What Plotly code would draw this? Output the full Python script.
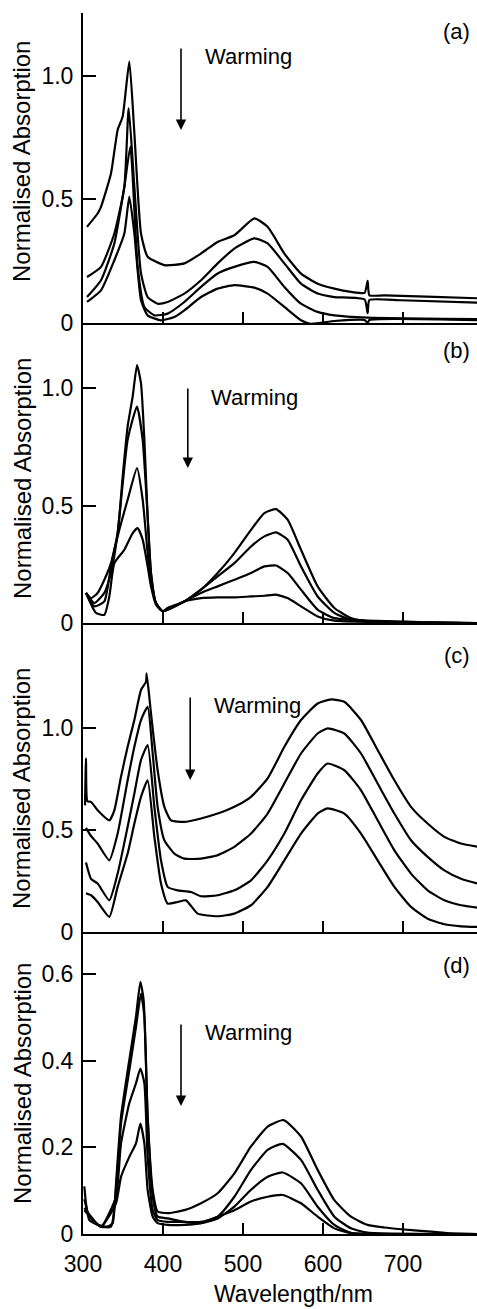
import plotly.graph_objects as go

# ---------------- Panel (a) ----------------
a1_nm = [305, 318.3, 322.5, 335, 343.3, 349.6, 357.9, 364.2, 372.5, 380.8, 401.7, 426.7, 447.5, 468.3, 489.2, 514.2, 530.8, 551.7, 572.5, 593.3, 614.2, 635, 652, 655.8, 658, 676.7, 739.2, 793.75]
a1_abs = [0.389, 0.443, 0.470, 0.605, 0.781, 0.835, 1.058, 0.768, 0.362, 0.268, 0.234, 0.241, 0.281, 0.328, 0.355, 0.423, 0.389, 0.281, 0.200, 0.159, 0.139, 0.126, 0.122, 0.170, 0.112, 0.112, 0.106, 0.100]
a2_nm = [305, 322.5, 339.2, 351.7, 357.1, 364.2, 372.5, 380.8, 393.3, 405.8, 426.7, 447.5, 468.3, 489.2, 514.2, 530.8, 551.7, 572.5, 593.3, 614.2, 652, 655.8, 658, 697.5, 793.75]
a2_abs = [0.186, 0.227, 0.362, 0.551, 0.869, 0.551, 0.200, 0.105, 0.078, 0.085, 0.119, 0.173, 0.241, 0.301, 0.342, 0.322, 0.241, 0.159, 0.119, 0.105, 0.095, 0.040, 0.093, 0.092, 0.082]
a3_nm = [305, 322.5, 339.2, 351.7, 359.2, 368.3, 376.7, 389.2, 405.8, 426.7, 447.5, 468.3, 489.2, 514.2, 530.8, 551.7, 572.5, 593.3, 614.2, 655.8, 793.75]
a3_abs = [0.105, 0.173, 0.322, 0.551, 0.714, 0.227, 0.065, 0.031, 0.038, 0.085, 0.146, 0.200, 0.227, 0.247, 0.227, 0.146, 0.078, 0.045, 0.031, 0.022, 0.016]
a4_nm = [305, 322.5, 339.2, 351.7, 357.9, 364.2, 372.5, 380.8, 397.5, 414.2, 426.7, 447.5, 468.3, 489.2, 514.2, 530.8, 551.7, 572.5, 585, 614.2, 652, 655.8, 658, 793.75]
a4_abs = [0.085, 0.132, 0.254, 0.362, 0.511, 0.362, 0.092, 0.031, 0.011, 0.024, 0.051, 0.105, 0.139, 0.153, 0.143, 0.119, 0.065, 0.011, -0.003, 0.008, 0.012, 0.000, 0.012, 0.011]

# ---------------- Panel (b) ----------------
b1_nm = [303.75, 310, 318.3, 326.7, 335, 343.3, 349.6, 355.8, 362.1, 367.5, 372.5, 376.7, 380.8, 385, 391.25, 399.6, 405.8, 426.7, 447.5, 468.3, 489.2, 510, 526.7, 541.25, 555.8, 572.5, 593.3, 614.2, 635, 655.8, 793.75]
b1_abs = [0.128, 0.106, 0.128, 0.184, 0.255, 0.383, 0.624, 0.837, 0.965, 1.099, 1.021, 0.780, 0.454, 0.213, 0.085, 0.050, 0.064, 0.092, 0.142, 0.213, 0.298, 0.397, 0.468, 0.485, 0.440, 0.312, 0.156, 0.064, 0.021, 0.007, 0.000]
b2_nm = [303.75, 314.2, 326.7, 335, 343.3, 355.8, 367.5, 374.6, 380.8, 385, 391.25, 399.6, 426.7, 447.5, 468.3, 489.2, 510, 526.7, 541.25, 555.8, 572.5, 593.3, 614.2, 635, 793.75]
b2_abs = [0.128, 0.085, 0.128, 0.213, 0.383, 0.780, 0.922, 0.780, 0.454, 0.213, 0.085, 0.050, 0.092, 0.142, 0.199, 0.255, 0.326, 0.369, 0.386, 0.355, 0.241, 0.113, 0.043, 0.014, 0.000]
b3_nm = [303.75, 314.2, 326.7, 335, 343.3, 355.8, 367.5, 374.6, 380.8, 385, 391.25, 399.6, 426.7, 447.5, 468.3, 489.2, 510, 526.7, 541.25, 555.8, 572.5, 593.3, 614.2, 793.75]
b3_abs = [0.128, 0.071, 0.092, 0.241, 0.369, 0.525, 0.660, 0.525, 0.298, 0.170, 0.085, 0.050, 0.092, 0.128, 0.156, 0.184, 0.213, 0.241, 0.245, 0.213, 0.142, 0.057, 0.021, 0.000]
b4_nm = [303.75, 316.25, 326.7, 332.9, 339.2, 351.7, 362.1, 368.3, 374.6, 380.8, 385, 391.25, 399.6, 426.7, 447.5, 468.3, 489.2, 510, 526.7, 541.25, 555.8, 572.5, 593.3, 614.2, 793.75]
b4_abs = [0.128, 0.043, 0.035, 0.113, 0.255, 0.312, 0.383, 0.404, 0.355, 0.241, 0.156, 0.078, 0.050, 0.092, 0.106, 0.109, 0.109, 0.113, 0.116, 0.121, 0.106, 0.071, 0.028, 0.010, 0.000]

# ---------------- Panel (c) ----------------
c1_nm = [302.5, 303.75, 305.5, 310, 318.3, 332.9, 339.2, 347.5, 355.8, 364.2, 372.5, 378.75, 379.6, 385, 393.3, 401.7, 410, 426.7, 447.5, 468.3, 489.2, 510, 530.8, 551.7, 572.5, 593.3, 610, 626.7, 647.5, 668.3, 689.2, 710, 730.8, 751.7, 772.5, 793.75]
c1_abs = [0.620, 0.850, 0.640, 0.637, 0.596, 0.547, 0.596, 0.760, 0.907, 1.038, 1.185, 1.225, 1.266, 1.070, 0.792, 0.613, 0.547, 0.539, 0.556, 0.580, 0.613, 0.662, 0.752, 0.907, 1.038, 1.119, 1.139, 1.127, 1.038, 0.891, 0.743, 0.613, 0.531, 0.466, 0.433, 0.417]
c2_nm = [303.75, 310, 318.3, 332.9, 343.3, 355.8, 364.2, 372.5, 380.8, 387.1, 393.3, 401.7, 414.2, 426.7, 447.5, 468.3, 489.2, 510, 530.8, 551.7, 572.5, 593.3, 605.8, 626.7, 647.5, 668.3, 689.2, 710, 730.8, 751.7, 772.5, 793.75]
c2_abs = [0.510, 0.470, 0.433, 0.351, 0.482, 0.743, 0.907, 1.038, 1.103, 0.874, 0.613, 0.449, 0.384, 0.359, 0.359, 0.376, 0.417, 0.482, 0.580, 0.727, 0.874, 0.972, 0.997, 0.972, 0.874, 0.727, 0.580, 0.449, 0.368, 0.302, 0.261, 0.237]
c3_nm = [303.75, 310, 318.3, 332.9, 343.3, 355.8, 364.2, 372.5, 380.8, 389.2, 397.5, 405.8, 418.3, 435, 447.5, 468.3, 489.2, 510, 530.8, 551.7, 572.5, 593.3, 605.8, 626.7, 647.5, 668.3, 689.2, 710, 730.8, 751.7, 772.5, 793.75]
c3_abs = [0.340, 0.260, 0.237, 0.155, 0.286, 0.515, 0.678, 0.842, 0.915, 0.613, 0.351, 0.221, 0.204, 0.196, 0.175, 0.180, 0.204, 0.253, 0.351, 0.482, 0.645, 0.776, 0.825, 0.792, 0.694, 0.547, 0.400, 0.286, 0.204, 0.155, 0.131, 0.119]
c4_nm = [303.75, 310, 318.3, 332.9, 343.3, 355.8, 364.2, 372.5, 380.8, 389.2, 397.5, 405.8, 418.3, 428.75, 443.3, 468.3, 489.2, 510, 530.8, 551.7, 572.5, 593.3, 605.8, 626.7, 647.5, 668.3, 689.2, 710, 730.8, 751.7, 772.5, 793.75]
c4_abs = [0.190, 0.180, 0.147, 0.074, 0.221, 0.384, 0.531, 0.662, 0.743, 0.466, 0.237, 0.139, 0.147, 0.155, 0.090, 0.077, 0.090, 0.131, 0.221, 0.351, 0.482, 0.580, 0.605, 0.580, 0.482, 0.351, 0.221, 0.123, 0.065, 0.038, 0.028, 0.025]

# ---------------- Panel (d) ----------------
d1_nm = [301.7, 303.75, 307.9, 318.3, 330.8, 337.1, 341.25, 347.5, 357.9, 366.25, 371.7, 375.8, 380.8, 387.1, 393.3, 405.8, 426.7, 447.5, 468.3, 489.2, 510, 530.8, 550.8, 572.5, 593.3, 614.2, 635, 655.8, 676.7, 697.5, 739.2, 755.8, 793.75]
d1_abs = [0.110, 0.071, 0.032, 0.021, 0.017, 0.025, 0.117, 0.271, 0.402, 0.502, 0.582, 0.540, 0.271, 0.102, 0.052, 0.048, 0.055, 0.071, 0.094, 0.140, 0.202, 0.248, 0.263, 0.225, 0.148, 0.078, 0.040, 0.021, 0.015, 0.011, 0.005, 0.002, 0.000]
d2_nm = [301.7, 307.9, 322.5, 335, 341.25, 347.5, 357.9, 366.25, 372.5, 376.7, 380.8, 387.1, 393.3, 405.8, 426.7, 447.5, 468.3, 489.2, 510, 530.8, 549.6, 572.5, 593.3, 614.2, 635, 655.8, 793.75]
d2_abs = [0.080, 0.040, 0.017, 0.017, 0.102, 0.255, 0.378, 0.478, 0.555, 0.502, 0.271, 0.086, 0.040, 0.036, 0.028, 0.028, 0.040, 0.086, 0.148, 0.194, 0.208, 0.171, 0.102, 0.040, 0.013, 0.003, 0.000]
d3_nm = [301.7, 322.5, 341.25, 347.5, 357.9, 366.25, 371.7, 376.7, 380.8, 387.1, 393.3, 405.8, 426.7, 447.5, 468.3, 489.2, 510, 530.8, 549.6, 572.5, 593.3, 614.2, 635, 793.75]
d3_abs = [0.060, 0.017, 0.086, 0.209, 0.302, 0.348, 0.382, 0.348, 0.178, 0.055, 0.032, 0.028, 0.028, 0.025, 0.036, 0.063, 0.102, 0.132, 0.142, 0.117, 0.063, 0.021, 0.003, 0.000]
d4_nm = [301.7, 322.5, 341.25, 347.5, 357.9, 366.25, 371.7, 376.7, 380.8, 387.1, 393.3, 405.8, 426.7, 447.5, 468.3, 489.2, 510, 530.8, 549.6, 572.5, 593.3, 614.2, 635, 793.75]
d4_abs = [0.055, 0.017, 0.071, 0.132, 0.178, 0.209, 0.255, 0.209, 0.102, 0.040, 0.025, 0.021, 0.021, 0.025, 0.040, 0.055, 0.075, 0.086, 0.090, 0.071, 0.040, 0.013, 0.002, 0.000]

panel_labels = ["(a)", "(b)", "(c)", "(d)"]
y_ranges = [[0, 1.254], [0, 1.278], [0, 1.513], [0, 0.697]]
y_tickvals = [[0, 0.5, 1.0], [0, 0.5, 1.0], [0, 0.5, 1.0], [0, 0.2, 0.4, 0.6]]
y_ticktext = [["0", "0.5", "1.0"], ["0", "0.5", "1.0"], ["0", "0.5", "1.0"], ["0", "0.2", "0.4", "0.6"]]
x_tickvals = [300, 400, 500, 600, 700]
x_ticktext = ["300", "400", "500", "600", "700"]
y_title = "Normalised Absorption"
x_title = "Wavelength/nm"
arrow_label = "Warming"

curves = [
    [(a1_nm, a1_abs), (a2_nm, a2_abs), (a3_nm, a3_abs), (a4_nm, a4_abs)],
    [(b1_nm, b1_abs), (b2_nm, b2_abs), (b3_nm, b3_abs), (b4_nm, b4_abs)],
    [(c1_nm, c1_abs), (c2_nm, c2_abs), (c3_nm, c3_abs), (c4_nm, c4_abs)],
    [(d1_nm, d1_abs), (d2_nm, d2_abs), (d3_nm, d3_abs), (d4_nm, d4_abs)],
]

# layout geometry (pixels)
W, H = 477, 1309
ML, MR, MT, MB = 83, 0, 13, 75
plot_h = H - MT - MB
bounds = [(13, 323), (323, 623), (623, 932), (932, 1234)]
title_cy = [162, 479, 789, 1084]
label_cy = [32, 350, 655, 965]
arrow_x = [422.5, 431, 434, 422.5]
arrow_top = [47, 387, 696, 1023]
arrow_tip = [130, 468, 780, 1106]
warm_left = [203, 209, 212, 203]
warm_cy = [56, 397, 705, 1032]

def py(p):
    return (H - MB - p) / plot_h

def px(p):
    return (p - ML) / (W - ML - MR)

FONT = "Liberation Sans, Arial, Helvetica, sans-serif"
fig = go.Figure()
layout = {}
annotations = []
for i in range(4):
    k = i + 1
    xa = "x" if k == 1 else f"x{k}"
    ya = "y" if k == 1 else f"y{k}"
    for nm, ab in curves[i]:
        fig.add_trace(go.Scatter(x=nm, y=ab, xaxis=xa, yaxis=ya, mode="lines",
                                 line=dict(color="black", width=2.2, shape="spline", smoothing=0.5),
                                 showlegend=False, hoverinfo="skip"))
    top, bot = bounds[i]
    layout["xaxis" if k == 1 else f"xaxis{k}"] = dict(
        domain=[0, 1], anchor=ya, range=[300, 792.5], showline=True,
        linecolor="black", linewidth=2, ticks="inside", ticklen=11, tickwidth=2,
        tickcolor="black", tickvals=x_tickvals, ticktext=x_ticktext,
        showticklabels=(k == 4), showgrid=False, zeroline=False, ticklabelstandoff=8,
        tickfont=dict(family=FONT, size=23, color="black"))
    layout["yaxis" if k == 1 else f"yaxis{k}"] = dict(
        domain=[py(bot), py(top)], anchor=xa, range=y_ranges[i], showline=True,
        linecolor="black", linewidth=2, ticks="inside", ticklen=13, tickwidth=2,
        tickcolor="black", tickvals=y_tickvals[i], ticktext=y_ticktext[i],
        showgrid=False, zeroline=False, ticklabelstandoff=3,
        tickfont=dict(family=FONT, size=23, color="black"))
    # y-axis title
    annotations.append(dict(text=y_title, xref="paper", yref="paper", x=px(22), y=py(title_cy[i]),
                            textangle=-90, showarrow=False, xanchor="center", yanchor="middle",
                            font=dict(family=FONT, size=24, color="black")))
    # panel label
    annotations.append(dict(text=panel_labels[i], xref="paper", yref="paper", x=px(472), y=py(label_cy[i]),
                            showarrow=False, xanchor="right", yanchor="middle",
                            font=dict(family=FONT, size=22, color="black")))
    # warming text
    annotations.append(dict(text=arrow_label, xref="paper", yref="paper", x=px(warm_left[i]), y=py(warm_cy[i]),
                            showarrow=False, xanchor="left", yanchor="middle",
                            font=dict(family=FONT, size=22, color="black")))
    # arrow
    tip_val = y_ranges[i][0] + (bot - arrow_tip[i]) / (bot - top) * (y_ranges[i][1] - y_ranges[i][0])
    annotations.append(dict(text="", xref=xa, yref=ya, x=arrow_x[i], y=tip_val,
                            ax=0, ay=-(arrow_tip[i] - arrow_top[i]), showarrow=True,
                            arrowhead=2, arrowsize=1.3, arrowwidth=1.6, arrowcolor="black"))

annotations.append(dict(text=x_title, xref="paper", yref="paper", x=px(293), y=py(1294),
                        showarrow=False, xanchor="center", yanchor="middle",
                        font=dict(family=FONT, size=23, color="black")))

fig.update_layout(width=W, height=H, margin=dict(l=ML, r=MR, t=MT, b=MB),
                  paper_bgcolor="white", plot_bgcolor="white",
                  annotations=annotations, showlegend=False, **layout)
fig.write_html("out.html", config={"displayModeBar": False},
               post_script="document.body.style.margin='0';document.body.style.overflow='hidden';")
